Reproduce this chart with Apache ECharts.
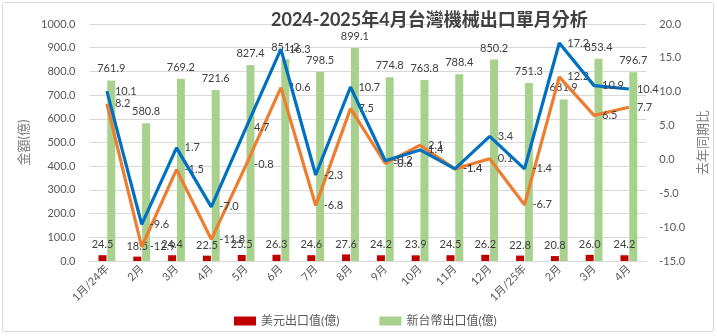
<!DOCTYPE html>
<html>
<head>
<meta charset="utf-8">
<script src="https://cdn.jsdelivr.net/npm/echarts@6/dist/echarts.min.js"></script>
<style>html,body{margin:0;padding:0;background:#fff}#c{width:717px;height:336px}</style>
</head>
<body>
<div id="c"></div>
<script>
const categories = ['1月/24年','2月','3月','4月','5月','6月','7月','8月','9月','10月','11月','12月','1月/25年','2月','3月','4月'];
const usdExport = [24.5, 18.5, 24.4, 22.5, 25.5, 26.3, 24.6, 27.6, 24.2, 23.9, 24.5, 26.2, 22.8, 20.8, 26.0, 24.2];
const ntdExport = [761.9, 580.8, 769.2, 721.6, 827.4, 851.2, 798.5, 899.1, 774.8, 763.8, 788.4, 850.2, 751.3, 681.9, 853.4, 796.7];
const ntdYoY = [10.1, -9.6, 1.7, -7.0, 4.7, 16.3, -2.3, 10.7, -0.2, 1.4, -1.4, 3.4, -1.4, 17.2, 10.9, 10.4];
const usdYoY = [8.2, -12.9, -1.5, -11.8, -0.8, 10.6, -6.8, 7.5, -0.6, 2.1, -1.4, 0.1, -6.7, 12.2, 6.5, 7.7];
const leftTicks = {min: 0, max: 1000, interval: 100};
const rightTicks = {min: -15, max: 20, interval: 5};

const FONT = 'Lato, "Noto Sans CJK TC", sans-serif';
const chart = echarts.init(document.getElementById('c'), null, {renderer: 'canvas'});
const fmt1 = p => Number(p.value).toFixed(1);
const lblStyle = {color: '#404040', fontSize: 11, fontFamily: FONT};

chart.setOption({
  animation: false,
  textStyle: {fontFamily: FONT},
  graphic: [{
    type: 'rect', shape: {x: 2.5, y: 2.5, width: 711, height: 329, r: 2},
    style: {fill: 'none', stroke: '#D9D9D9', lineWidth: 1}, z: -10
  }],
  title: {
    text: '2024-2025年4月台灣機械出口單月分析',
    left: 266, top: 6,
    textStyle: {fontSize: 18, fontWeight: 'bold', color: '#404040', fontFamily: FONT}
  },
  legend: {
    data: ['美元出口值(億)', '新台幣出口值(億)'],
    bottom: 4, left: 229,
    itemWidth: 22, itemHeight: 9, itemGap: 40,
    icon: 'rect',
    textStyle: {color: '#595959', fontSize: 12, fontFamily: FONT}
  },
  grid: {left: 89.5, right: 67.5, top: 24, bottom: 75},
  xAxis: {
    type: 'category', data: categories, boundaryGap: true,
    axisLine: {lineStyle: {color: '#D9D9D9'}},
    axisTick: {show: false},
    axisLabel: {rotate: 45, color: '#595959', fontSize: 11, interval: 0, margin: 6, fontFamily: FONT}
  },
  yAxis: [{
    type: 'value', min: leftTicks.min, max: leftTicks.max, interval: leftTicks.interval,
    name: '金額(億)', nameLocation: 'middle', nameRotate: 90, nameGap: 55,
    nameTextStyle: {color: '#7F7F7F', fontSize: 13, fontFamily: FONT},
    axisLabel: {formatter: v => v.toFixed(1), color: '#595959', fontSize: 11, margin: 14, fontFamily: FONT},
    axisLine: {show: false}, axisTick: {show: false},
    splitLine: {lineStyle: {color: '#D9D9D9'}}
  }, {
    type: 'value', min: rightTicks.min, max: rightTicks.max, interval: rightTicks.interval,
    name: '去年同期比', nameLocation: 'middle', nameRotate: 90, nameGap: 46,
    nameTextStyle: {color: '#7F7F7F', fontSize: 13, fontFamily: FONT},
    axisLabel: {formatter: v => v.toFixed(1), color: '#595959', fontSize: 11, margin: 13, fontFamily: FONT},
    axisLine: {show: false}, axisTick: {show: false},
    splitLine: {show: false}
  }],
  series: [{
    name: '美元出口值(億)', type: 'bar', yAxisIndex: 0, data: usdExport,
    barWidth: 8, barGap: '10%',
    itemStyle: {color: '#C00000'},
    label: Object.assign({show: true, position: 'top', distance: 5, formatter: fmt1}, lblStyle)
  }, {
    name: '新台幣出口值(億)', type: 'bar', yAxisIndex: 0, data: ntdExport,
    barWidth: 8,
    itemStyle: {color: '#A9D18E'},
    label: Object.assign({show: true, position: 'top', distance: 6, formatter: fmt1}, lblStyle)
  }, {
    name: '新台幣年增率', type: 'line', yAxisIndex: 1, data: ntdYoY,
    symbol: 'circle', symbolSize: 0, showSymbol: true,
    lineStyle: {color: '#0070C0', width: 3.2}, itemStyle: {color: '#0070C0'},
    label: Object.assign({show: true, position: 'right', distance: 8, formatter: fmt1}, lblStyle),
    labelLayout: {hideOverlap: false},
    z: 5
  }, {
    name: '美元年增率', type: 'line', yAxisIndex: 1, data: usdYoY,
    symbol: 'circle', symbolSize: 0, showSymbol: true,
    lineStyle: {color: '#ED7D31', width: 3.2}, itemStyle: {color: '#ED7D31'},
    label: Object.assign({show: true, position: 'right', distance: 8, formatter: fmt1}, lblStyle),
    z: 4
  }]
});
</script>
</body>
</html>
